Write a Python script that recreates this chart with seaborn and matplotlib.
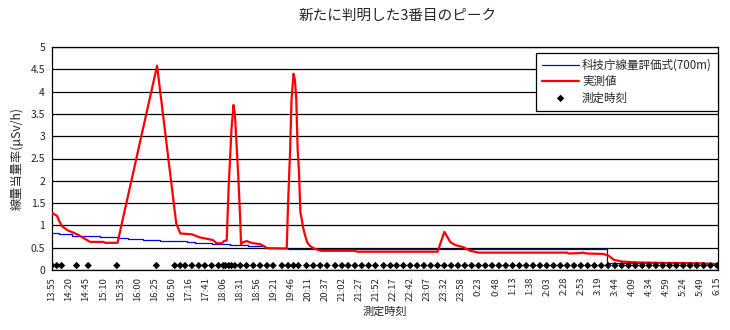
import matplotlib
matplotlib.use("Agg")
import matplotlib.pyplot as plt
import seaborn as sns

# --- data (x = position on the time-category axis, one step per recorded minute) ---
tick_labels = ["13:55", "14:20", "14:45", "15:10", "15:35", "16:00", "16:25", "16:50",
               "17:16", "17:41", "18:06", "18:31", "18:56", "19:21", "19:46", "20:11",
               "20:37", "21:02", "21:27", "21:52", "22:17", "22:42", "23:07", "23:32",
               "23:58", "0:23", "0:48", "1:13", "1:38", "2:03", "2:28", "2:53",
               "3:19", "3:44", "4:09", "4:34", "4:59", "5:24", "5:49", "6:15"]
tick_step = 25

# measured dose rate (red line)
meas_x = [0, 7, 14, 23, 31, 38, 48, 56, 75, 78, 96, 154, 182, 188, 205, 210, 217, 227,
          236, 241, 249, 252, 256, 259, 263, 266, 268, 271, 273, 276, 277, 280, 285, 290,
          295, 305, 310, 315, 344, 346, 349, 351, 354, 356, 358, 360, 362, 364, 366, 368,
          371, 374, 378, 383, 388, 395, 444, 447, 565, 575, 584, 591, 603, 613, 625, 755,
          757, 774, 777, 784, 808, 816, 823, 835, 857, 891, 950, 975]
meas_y = [1.28, 1.22, 0.99, 0.89, 0.84, 0.79, 0.70, 0.63, 0.63, 0.61, 0.61, 4.58, 1.05,
          0.82, 0.80, 0.77, 0.73, 0.70, 0.67, 0.60, 0.60, 0.65, 0.66, 1.90, 3.15, 3.70,
          3.50, 2.66, 2.10, 1.06, 0.58, 0.62, 0.65, 0.62, 0.60, 0.58, 0.54, 0.49, 0.48,
          1.51, 2.70, 3.82, 4.40, 4.26, 3.82, 2.70, 2.18, 1.29, 1.14, 0.95, 0.77, 0.62,
          0.54, 0.49, 0.46, 0.43, 0.43, 0.41, 0.41, 0.855, 0.62, 0.56, 0.51, 0.43, 0.39,
          0.39, 0.37, 0.38, 0.39, 0.37, 0.36, 0.32, 0.23, 0.19, 0.17, 0.16, 0.15, 0.13]

# dose estimate from the evaluation formula (blue steps)
calc_x = [0, 10, 29, 38, 70, 97, 111, 133, 158, 198, 210, 235, 261, 287, 312, 346, 381,
          814, 976]
calc_y = [0.82, 0.80, 0.77, 0.76, 0.74, 0.71, 0.69, 0.68, 0.66, 0.625, 0.60, 0.58, 0.55,
          0.53, 0.50, 0.48, 0.46, 0.16, 0.16]

# times at which a measurement was taken (diamonds along the bottom)
sample_x = [0, 7, 14, 36, 53, 95, 153, 180, 188, 195, 205, 215, 224, 234, 244, 251, 254,
            259, 263, 268, 276, 285, 295, 305, 315, 324, 337, 346, 354, 361, 373, 383,
            393, 403, 415, 425, 434, 444, 454, 464, 474, 486, 496, 505, 515, 525, 535,
            545, 555, 565, 575, 585, 595, 605, 615, 625, 635, 645, 655, 665, 675, 685,
            695, 705, 715, 725, 735, 745, 755, 765, 775, 785, 795, 805, 815, 825, 835,
            845, 855, 865, 875, 885, 895, 905, 915, 925, 935, 945, 955, 965, 975]
sample_level = 0.1

y_ticks = [0, 0.5, 1, 1.5, 2, 2.5, 3, 3.5, 4, 4.5, 5]

# --- style ---
sns.set_theme(style="white")
plt.rcParams["font.family"] = ["Noto Sans CJK JP", "DejaVu Sans"]
plt.rcParams["axes.unicode_minus"] = False

fig = plt.figure(figsize=(7.3, 3.3), dpi=100)
fig.patch.set_facecolor("white")
ax = fig.add_axes([52 / 730, 1 - 270 / 330, 666 / 730, 223 / 330])
ax.set_facecolor("white")

for v in y_ticks:
    ax.axhline(v, color="black", lw=0.9, zorder=1)

sns.lineplot(x=calc_x, y=calc_y, ax=ax, color="#0000ee", lw=0.9,
             drawstyle="steps-post", estimator=None, sort=False,
             label="科技庁線量評価式(700m)", zorder=3)
sns.lineplot(x=meas_x, y=meas_y, ax=ax, color="#ff0000", lw=1.6,
             estimator=None, sort=False, label="実測値", zorder=4)
sns.scatterplot(x=sample_x, y=[sample_level] * len(sample_x), ax=ax, marker="D",
                s=14, color="black", edgecolor="none", label="測定時刻", zorder=5)

ax.set_xlim(0, 976)
ax.set_ylim(0, 5)

xt = [i * tick_step for i in range(len(tick_labels))]
ax.set_xticks(xt)
ax.set_xticklabels(tick_labels, rotation=90, fontsize=6.8)
ax.set_yticks(y_ticks)
ax.set_yticklabels([f"{v:g}" for v in y_ticks], fontsize=7.5)
ax.tick_params(axis="x", direction="out", length=2, width=0.8, color="black", pad=3)
ax.tick_params(axis="y", length=0, pad=5)

for s in ax.spines.values():
    s.set_color("black")
    s.set_linewidth(0.9)
    s.set_visible(True)

ax.set_xlabel("測定時刻", fontsize=8, labelpad=4)
ax.set_ylabel("線量当量率(μSv/h)", fontsize=8.8, labelpad=5)

fig.text(398 / 730, 1 - 16 / 330, "新たに判明した3番目のピーク", ha="center", va="center",
         fontsize=10.5)

leg = ax.legend(loc="upper right", bbox_to_anchor=(1.0, 0.975), fontsize=8.3,
                frameon=True, fancybox=False, edgecolor="black", framealpha=1,
                handlelength=3.2, handletextpad=0.25, borderpad=0.55, labelspacing=0.28,
                borderaxespad=0)
leg.get_frame().set_linewidth(0.9)

fig.savefig("out.png", dpi=100, facecolor="white")
